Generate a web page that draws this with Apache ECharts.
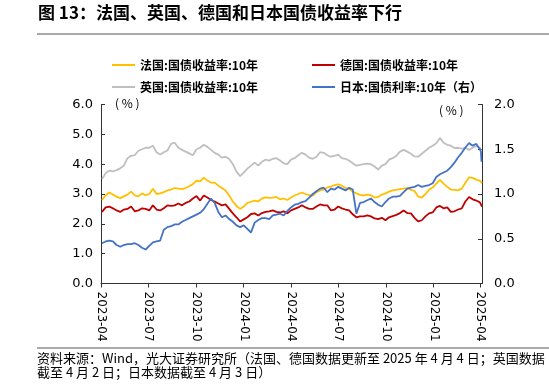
<!DOCTYPE html>
<html><head><meta charset="utf-8">
<script src="https://cdn.jsdelivr.net/npm/echarts@6/dist/echarts.min.js"></script>
<style>html,body{margin:0;padding:0;background:#fff}#c{width:549px;height:387px}</style>
</head><body><div id="c"></div>
<script>
const dates = ['2023-04-03','2023-04-10','2023-04-17','2023-04-24','2023-05-01','2023-05-08','2023-05-15','2023-05-22','2023-05-29','2023-06-05',
'2023-06-12','2023-06-19','2023-06-26','2023-07-03','2023-07-10','2023-07-17','2023-07-24','2023-07-31','2023-08-07','2023-08-14',
'2023-08-21','2023-08-28','2023-09-04','2023-09-11','2023-09-18','2023-09-25','2023-10-02','2023-10-09','2023-10-16','2023-10-23',
'2023-10-30','2023-11-06','2023-11-13','2023-11-20','2023-11-27','2023-12-04','2023-12-11','2023-12-18','2023-12-25','2024-01-01',
'2024-01-08','2024-01-15','2024-01-22','2024-01-29','2024-02-05','2024-02-12','2024-02-19','2024-02-26','2024-03-04','2024-03-11',
'2024-03-18','2024-03-25','2024-04-01','2024-04-08','2024-04-15','2024-04-22','2024-04-29','2024-05-06','2024-05-13','2024-05-20',
'2024-05-27','2024-06-03','2024-06-10','2024-06-17','2024-06-24','2024-07-01','2024-07-08','2024-07-15','2024-07-22','2024-07-29',
'2024-08-05','2024-08-12','2024-08-19','2024-08-26','2024-09-02','2024-09-09','2024-09-16','2024-09-23','2024-09-30','2024-10-07',
'2024-10-14','2024-10-21','2024-10-28','2024-11-04','2024-11-11','2024-11-18','2024-11-25','2024-12-02','2024-12-09','2024-12-16',
'2024-12-23','2024-12-30','2025-01-06','2025-01-13','2025-01-20','2025-01-27','2025-02-03','2025-02-10','2025-02-17','2025-02-24',
'2025-03-03','2025-03-10','2025-03-17','2025-03-24','2025-03-31','2025-04-02','2025-04-03','2025-04-04'];

const france = [2.80,2.96,3.05,2.98,2.91,2.86,2.92,2.98,3.08,2.95,
2.92,3.02,2.96,3.00,3.18,3.00,3.02,3.06,3.12,3.15,
3.20,3.18,3.16,3.20,3.26,3.33,3.45,3.42,3.55,3.45,
3.38,3.38,3.28,3.20,3.12,2.95,2.75,2.60,2.50,2.58,
2.70,2.74,2.78,2.75,2.85,2.89,2.87,2.88,2.90,2.82,
2.85,2.80,2.88,2.95,3.00,3.05,3.00,2.96,2.95,3.06,
3.12,3.15,3.22,3.25,3.30,3.32,3.28,3.20,3.17,3.08,
3.02,2.97,2.95,2.98,2.96,2.88,2.90,2.98,3.02,3.08,
3.12,3.14,3.16,3.18,3.20,3.14,3.10,2.92,2.88,3.00,
3.14,3.22,3.35,3.47,3.35,3.24,3.15,3.14,3.12,3.18,
3.38,3.56,3.54,3.48,3.44,3.42,3.40,3.36];

const germany = [2.40,2.55,2.58,2.52,2.45,2.40,2.48,2.50,2.58,2.42,
2.45,2.52,2.50,2.45,2.62,2.48,2.45,2.52,2.62,2.60,
2.62,2.68,2.62,2.70,2.75,2.85,2.93,2.78,2.95,2.88,
2.80,2.75,2.68,2.62,2.65,2.50,2.35,2.22,2.08,2.15,
2.22,2.33,2.35,2.28,2.36,2.40,2.42,2.45,2.40,2.38,
2.42,2.35,2.45,2.50,2.55,2.62,2.55,2.50,2.50,2.58,
2.65,2.62,2.62,2.45,2.48,2.58,2.52,2.48,2.45,2.32,
2.22,2.25,2.25,2.28,2.25,2.18,2.16,2.20,2.12,2.22,
2.26,2.30,2.36,2.45,2.36,2.35,2.20,2.08,2.12,2.25,
2.35,2.38,2.55,2.60,2.52,2.55,2.40,2.42,2.48,2.52,
2.75,2.90,2.82,2.78,2.72,2.70,2.66,2.58];

const uk = [3.50,3.70,3.78,3.76,3.80,3.86,3.95,4.20,4.28,4.30,
4.45,4.50,4.55,4.55,4.62,4.40,4.32,4.40,4.46,4.68,
4.72,4.55,4.48,4.42,4.36,4.30,4.50,4.55,4.65,4.58,
4.48,4.38,4.32,4.22,4.25,4.17,4.00,3.75,3.60,3.72,
3.85,3.95,4.05,3.95,4.08,4.15,4.12,4.18,4.20,4.12,
4.03,4.00,4.15,4.20,4.30,4.38,4.32,4.22,4.18,4.25,
4.40,4.38,4.30,4.25,4.28,4.32,4.20,4.18,4.12,4.03,
3.95,3.98,4.00,4.02,4.00,3.92,3.82,3.95,4.00,4.15,
4.20,4.28,4.42,4.48,4.42,4.35,4.26,4.25,4.35,4.45,
4.55,4.62,4.70,4.88,4.72,4.65,4.62,4.54,4.55,4.52,
4.55,4.48,4.55,4.60,4.55,4.48,null,null];

const japan = [0.45,0.47,0.48,0.47,0.43,0.41,0.43,0.44,0.44,0.45,
0.43,0.40,0.38,0.42,0.46,0.47,0.48,0.60,0.63,0.64,
0.66,0.66,0.69,0.71,0.73,0.75,0.77,0.79,0.83,0.89,
0.95,0.90,0.80,0.74,0.76,0.72,0.69,0.65,0.63,0.65,
0.61,0.57,0.68,0.71,0.73,0.73,0.72,0.76,0.77,0.78,
0.76,0.81,0.85,0.88,0.89,0.91,0.92,0.96,1.00,1.03,
1.06,1.07,1.02,1.06,1.05,1.08,1.06,1.04,1.07,1.05,
0.78,0.90,0.91,0.93,0.95,0.91,0.88,0.86,0.91,0.95,
0.97,0.97,0.98,1.02,1.06,1.07,1.08,1.10,1.08,1.09,
1.10,1.12,1.19,1.22,1.24,1.26,1.30,1.35,1.41,1.46,
1.52,1.57,1.54,1.56,1.50,1.47,1.36,null];

const tickLabels = ['2023-04','2023-07','2023-10','2024-01','2024-04','2024-07','2024-10','2025-01','2025-04'];
const names = ['法国:国债收益率:10年','德国:国债收益率:10年','英国:国债收益率:10年','日本:国债利率:10年（右）'];
const colors = ['#FFC000','#C00000','#BFBFBF','#4472C4'];

const chart = echarts.init(document.getElementById('c'), null, {renderer:'canvas'});
const pd = s => echarts.number.parseDate(s).getTime();
const tickVals = tickLabels.map(t => pd(t + '-01'));
const pair = arr => dates.map((d,i) => [pd(d), arr[i]]);
const seriesVals = [france, germany, uk, japan];
const fmtMonth = v => { const d = new Date(v); return d.getFullYear() + '-' + String(d.getMonth()+1).padStart(2,'0'); };

const legendPos = [[112,59],[312,59],[112,81],[312,81]];
const cjk = '"Noto Sans CJK SC", sans-serif';
const num = '"DejaVu Sans", sans-serif';

chart.setOption({
  animation:false,
  backgroundColor:'#fff',
  textStyle:{fontFamily:cjk},
  legend: names.map((n,i)=>({
    data:[n], left:legendPos[i][0], top:legendPos[i][1], icon:'rect', itemWidth:23, itemHeight:2,
    itemGap:0, padding:0,
    textStyle:{fontSize:12, fontWeight:'bold', color:'#000', fontFamily:cjk}
  })),
  grid:{left:101, right:67, top:104.5, bottom:103.5},
  xAxis:{
    type:'value', min:pd('2023-04-01'), max:pd('2025-04-04'), scale:true,
    axisLine:{lineStyle:{color:'#333', width:1}},
    axisTick:{show:true, length:4, customValues:tickVals, lineStyle:{color:'#333'}},
    axisLabel:{customValues:tickVals, rotate:-90, fontSize:12, color:'#000', fontFamily:num, margin:8,
      formatter: fmtMonth},
    splitLine:{show:false}
  },
  yAxis:[
    {type:'value', min:0, max:6, interval:1, position:'left',
      axisLine:{show:true, lineStyle:{color:'#333'}}, axisTick:{show:true, inside:true, length:4, lineStyle:{color:'#333'}},
      axisLabel:{fontSize:13, color:'#000', fontFamily:num, margin:8, formatter:v=>v.toFixed(1)}, splitLine:{show:false}},
    {type:'value', min:0, max:2, interval:0.5, position:'right',
      axisLine:{show:true, lineStyle:{color:'#333'}}, axisTick:{show:true, inside:true, length:4, lineStyle:{color:'#333'}},
      axisLabel:{fontSize:13, color:'#000', fontFamily:num, margin:12, formatter:v=>v.toFixed(1)}, splitLine:{show:false}}
  ],
  series: names.map((n,i)=>({
    name:n, type:'line', yAxisIndex: i===3?1:0, data:pair(seriesVals[i]),
    showSymbol:false, symbol:'none', connectNulls:false,
    lineStyle:{color:colors[i], width:1.8}, itemStyle:{color:colors[i]}
  })),
  graphic:[
    {type:'text', left:38, top:4, style:{text:'图 13：法国、英国、德国和日本国债收益率下行', font:'bold 17px "Noto Sans CJK SC"', fill:'#000'}},
    {type:'line', shape:{x1:37, y1:34, x2:549, y2:34}, style:{stroke:'#555', lineWidth:1}},
    {type:'line', shape:{x1:37, y1:348, x2:549, y2:348}, style:{stroke:'#555', lineWidth:1}},
    {type:'text', left:115, top:97, style:{text:'( % )', font:'12px "Noto Sans CJK SC"', fill:'#000'}},
    {type:'text', left:439, top:104, style:{text:'( % )', font:'12px "Noto Sans CJK SC"', fill:'#000'}},
    {type:'text', left:37, top:352, style:{text:'资料来源：Wind，光大证券研究所（法国、德国数据更新至 2025 年 4 月 4 日；英国数据', font:'13px "Noto Sans CJK SC"', fill:'#000'}},
    {type:'text', left:37, top:366, style:{text:'截至 4 月 2 日；日本数据截至 4 月 3 日）', font:'13px "Noto Sans CJK SC"', fill:'#000'}}
  ]
});
</script></body></html>
